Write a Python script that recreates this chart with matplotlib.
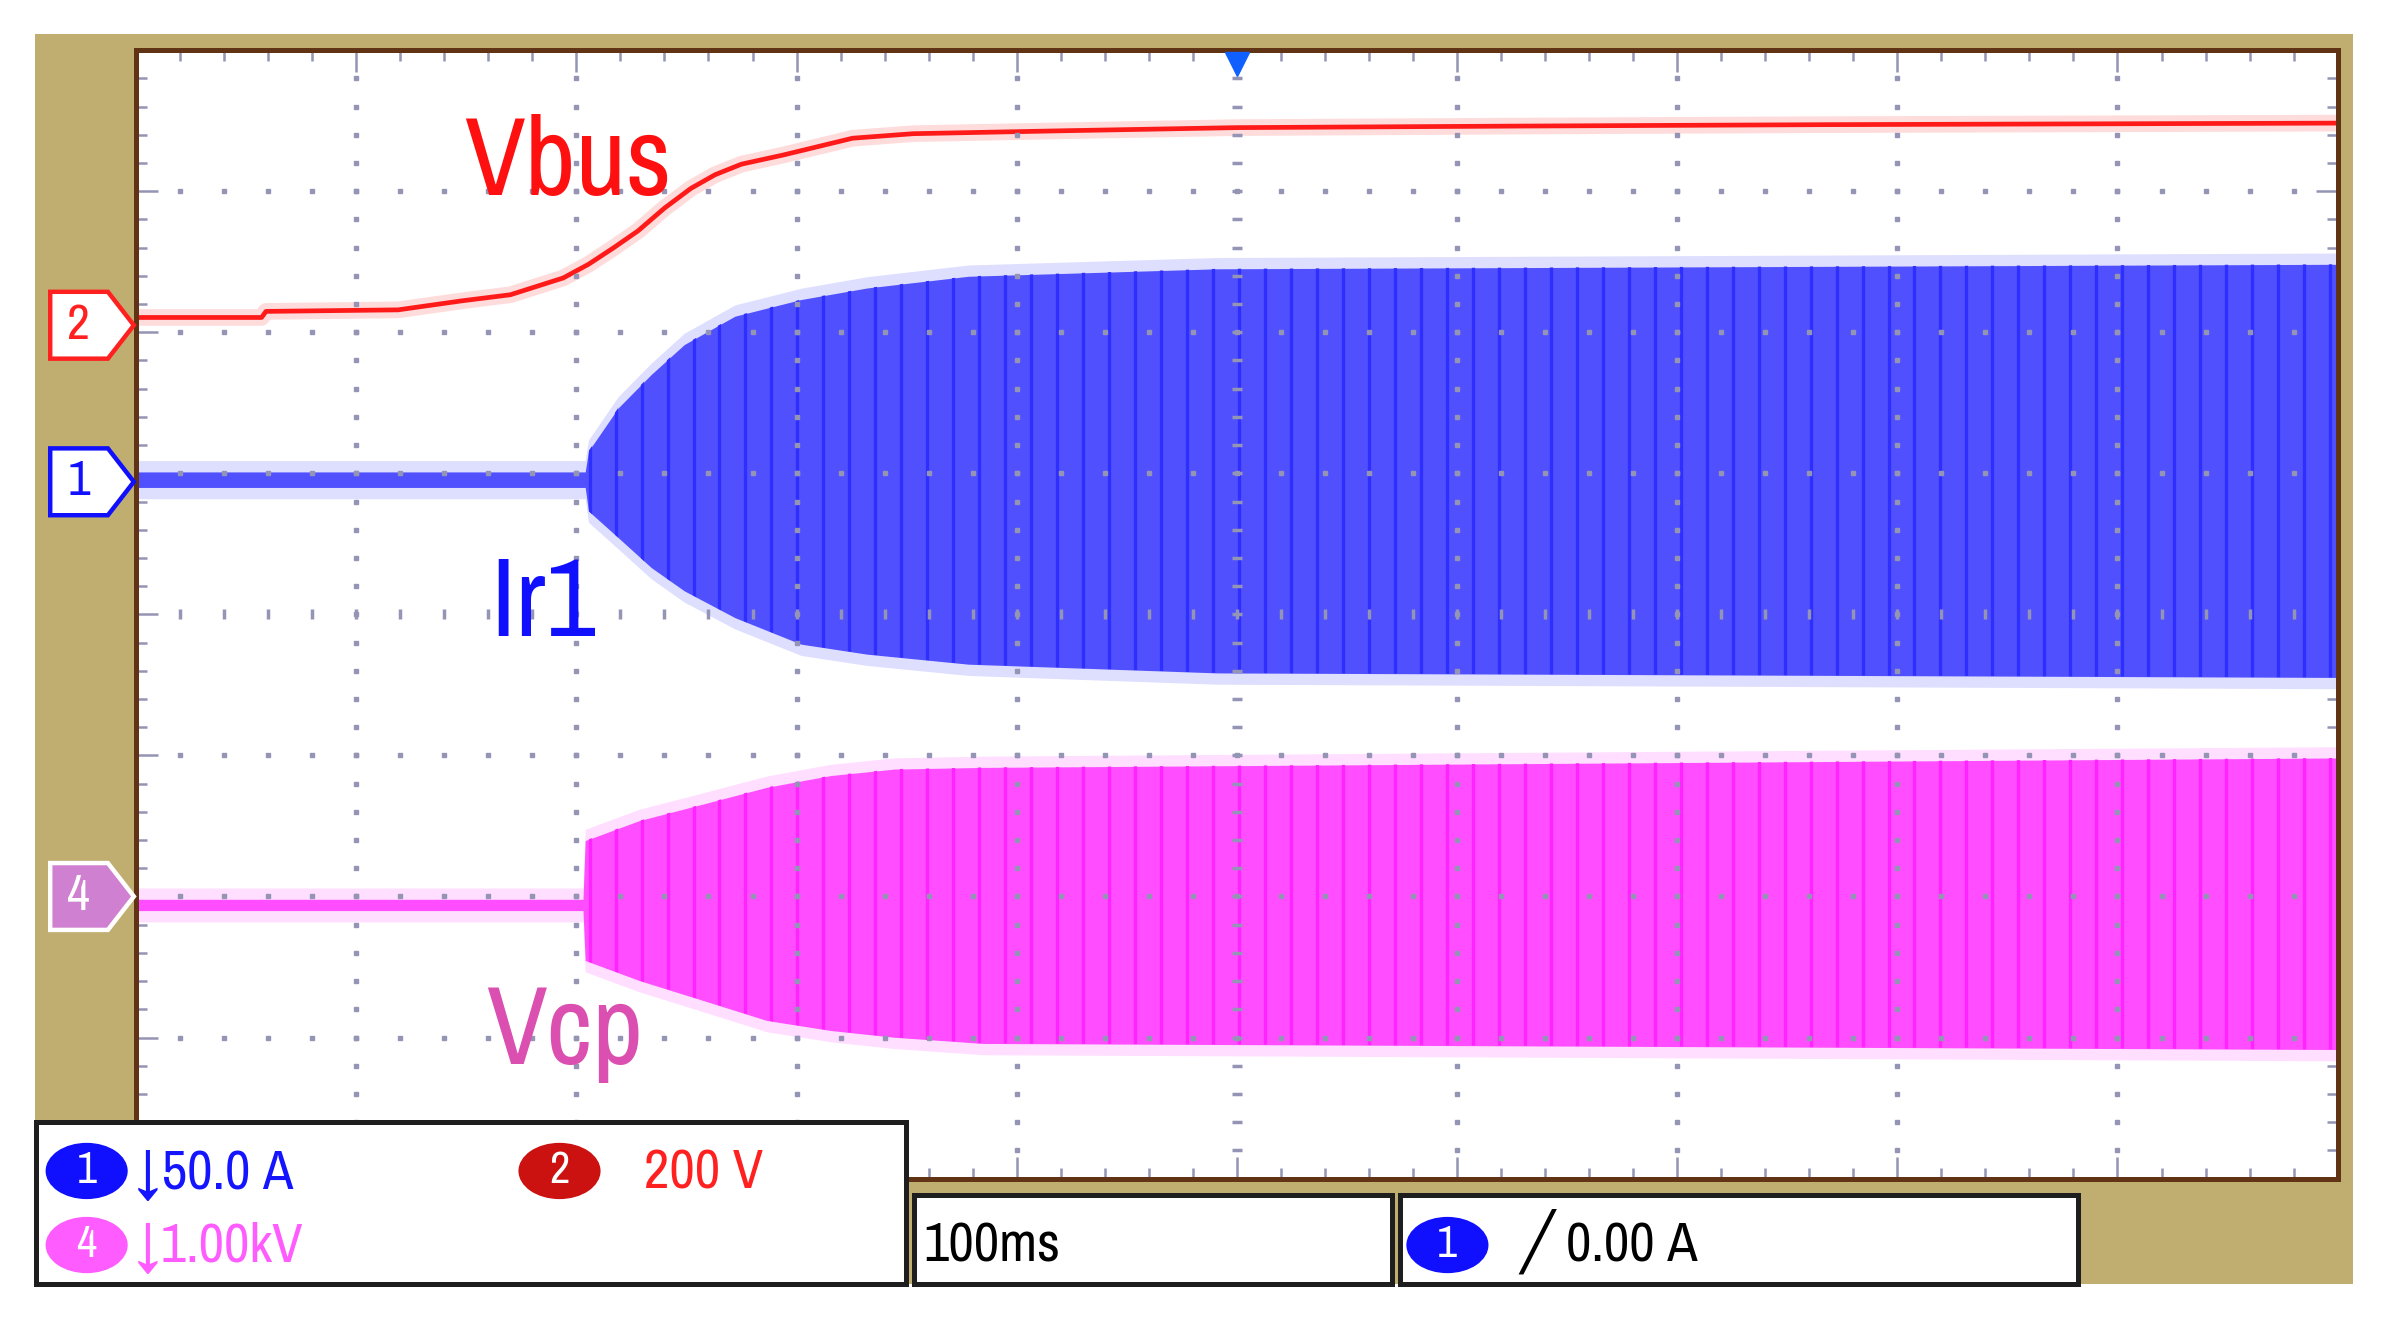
import matplotlib
matplotlib.use("Agg")
import matplotlib.pyplot as plt
import numpy as np
from matplotlib import font_manager as fm
from matplotlib.patches import Rectangle, Ellipse, Polygon
from matplotlib.transforms import blended_transform_factory
from matplotlib.ticker import MultipleLocator

# look for a narrow face, the scope font is very condensed
shrink = 1.0
narrow = [f for f in fm.fontManager.ttflist if 'Narrow' in f.fname]
cond = [f for f in fm.fontManager.ttflist if f.name == 'DejaVu Sans' and 'Condensed' in f.fname]
if narrow:
    plt.rcParams['font.family'] = [narrow[0].name, 'DejaVu Sans']
elif cond:
    plt.rcParams['font.family'] = ['DejaVu Sans']
    plt.rcParams['font.stretch'] = 'condensed'
    shrink = 0.92
else:
    plt.rcParams['font.family'] = ['DejaVu Sans']
    shrink = 0.8

# time in ms (100 ms/div, trigger at centre), vertical position in divisions
# ch2 - Vbus
vbus_t = [-500, -443, -441, -381, -352, -330, -306, -294.5, -283, -272, -260,
          -248, -237, -225, -206, -174.5, -147, -78, 0, 129, 267, 500]
vbus_v = [2.105, 2.105, 2.148, 2.159, 2.223, 2.266, 2.385, 2.482, 2.600, 2.719, 2.880,
          3.020, 3.117, 3.192, 3.257, 3.376, 3.408, 3.429, 3.451, 3.462, 3.472, 3.483]

# ch1 - Ir1 envelope (upper / lower)
ir1_t = [-500, -296, -294.5, -281, -266, -251, -228, -198, -168, -122, -9, 500]
ir1_hi = [1.01, 1.01, 1.157, 1.464, 1.701, 1.913, 2.114, 2.232, 2.314, 2.397, 2.45, 2.482]
ir1_lo = [0.90, 0.90, 0.733, 0.544, 0.332, 0.167, -0.023, -0.211, -0.282, -0.353, -0.415, -0.447]

# ch4 - Vcp envelope (upper / lower)
vcp_t = [-500, -297, -296, -271.4, -242.5, -213.5, -184.6, -155.7, -115.2, 500]
vcp_hi = [-2.02, -2.02, -1.604, -1.462, -1.345, -1.226, -1.143, -1.097, -1.085, -1.018]
vcp_lo = [-2.10, -2.10, -2.454, -2.596, -2.737, -2.879, -2.950, -2.998, -3.042, -3.085]

# channel ground markers
ch_names = ['2', '1', '4']
ch_levels = [2.05, 0.94, -2.0]
ch_edge = ['#FF2020', '#1010FF', 'white']
ch_face = ['white', 'white', '#D080D0']
ch_txt = ['#FF2020', '#1010FF', 'white']

# trace labels
lab_text = ['Vbus', 'Ir1', 'Vcp']
lab_t = [-351, -339, -341]
lab_v = [2.976, -0.151, -3.191]
lab_col = ['#FF1010', '#1010FF', '#DA4FB0']

# readouts
scale_text = ['\u219350.0 A', '200 V', '\u21931.00kV']
timebase = '100ms'
trig_text = '\u2571 0.00 A'

tan = '#C0AE70'
grid_c = '#9494B4'

fig = plt.figure(figsize=(23.84, 13.2), dpi=100)
fig.add_artist(Rectangle((0.01467, 0.02765), 0.97225, 0.94654, transform=fig.transFigure,
                         facecolor=tan, edgecolor='none', zorder=-10))

ax = fig.add_axes([0.05708, 0.10714, 0.92347, 0.85484])
ax.set_facecolor('white')
ax.set_xlim(-500, 500)
ax.set_ylim(-4, 4)
for s in ax.spines.values():
    s.set_color('#5F3313')
    s.set_linewidth(3.6)
    s.set_zorder(12)
ax.xaxis.set_major_locator(MultipleLocator(100))
ax.xaxis.set_minor_locator(MultipleLocator(20))
ax.yaxis.set_major_locator(MultipleLocator(1))
ax.yaxis.set_minor_locator(MultipleLocator(0.2))
ax.tick_params(which='both', direction='in', top=True, right=True, bottom=True, left=True,
               labelbottom=False, labelleft=False, color=grid_c, width=1.8)
ax.tick_params(which='major', length=16)
ax.tick_params(which='minor', length=8)

# graticule dots
yy = np.arange(-3.8, 3.81, 0.2)
xx = np.arange(-480, 481, 20)
for gx in [-400, -300, -200, -100, 100, 200, 300, 400]:
    ax.plot(np.full_like(yy, gx), yy, ls='none', marker='s', ms=2.8, color=grid_c, zorder=8)
for gy in [-3, -2, -1, 1, 2, 3]:
    ax.plot(xx, np.full_like(xx, gy, dtype=float), ls='none', marker='s', ms=2.8, color=grid_c, zorder=8)
# centre axes with ticks
ax.plot(np.zeros_like(yy), yy, ls='none', marker='_', ms=7, mew=2.5, color=grid_c, zorder=8)
ax.plot(xx, np.zeros_like(xx, dtype=float), ls='none', marker='|', ms=7, mew=2.5, color=grid_c, zorder=8)

# Vbus
ax.plot(vbus_t, vbus_v, color='#FFDCDC', lw=12, solid_capstyle='butt', zorder=2)
ax.plot(vbus_t, vbus_v, color='#FF1A1A', lw=3.4, zorder=3)


def envelope(t, hi, lo, halo, fill, stripe, ylo, yhi):
    ax.fill_between(t, np.add(hi, 0.08), np.subtract(lo, 0.08), color=halo, lw=0, zorder=2)
    body = ax.fill_between(t, hi, lo, color=fill, lw=0, zorder=3)
    st = ax.vlines(np.arange(-294, 500, 11.8), ylo, yhi, colors=stripe, lw=2.4, zorder=4)
    st.set_clip_path(body.get_paths()[0], ax.transData)


envelope(ir1_t, ir1_hi, ir1_lo, '#DEDEFF', '#5050FF', '#2E2EFF', -1, 3)
envelope(vcp_t, vcp_hi, vcp_lo, '#FFDEFF', '#FF4DFF', '#FF24FF', -3.5, -0.5)

for txt, x, y, c in zip(lab_text, lab_t, lab_v, lab_col):
    ax.text(x, y, txt, color=c, fontsize=80 * shrink, ha='left', va='baseline', zorder=9)

# trigger position marker
ax.plot([0], [3.9], marker='v', ms=17, color='#1060FF', clip_on=False, zorder=13)

# channel markers on the left
trans = blended_transform_factory(ax.transAxes, ax.transData)
for name, lv, ec, fc, tc in zip(ch_names, ch_levels, ch_edge, ch_face, ch_txt):
    h = 0.237
    pts = [(-0.039, lv + h), (-0.0128, lv + h), (-0.001, lv), (-0.0128, lv - h), (-0.039, lv - h)]
    ax.add_patch(Polygon(pts, closed=True, transform=trans, facecolor=fc, edgecolor=ec,
                         lw=3.2, clip_on=False, zorder=13))
    ax.text(-0.026, lv, name, transform=trans, color=tc, fontsize=36, ha='center', va='center',
            clip_on=False, zorder=14)

# readout boxes
for x0, y0, w, h in [(0.01499, 0.02765, 0.36486, 0.12212),
                     (0.38329, 0.02765, 0.20070, 0.06682),
                     (0.58712, 0.02765, 0.28457, 0.06682)]:
    fig.add_artist(Rectangle((x0, y0), w, h, transform=fig.transFigure, facecolor='white',
                             edgecolor='#1E1E1E', lw=3.6, zorder=20))

for cx, cy, col, num in [(0.03635, 0.11290, '#1010FF', '1'), (0.23469, 0.11290, '#CC1111', '2'),
                         (0.03635, 0.05680, '#FF5CFF', '4'), (0.60714, 0.05680, '#1010FF', '1')]:
    fig.add_artist(Ellipse((cx, cy), 0.03444, 0.04263, transform=fig.transFigure,
                           facecolor=col, edgecolor='none', zorder=21))
    fig.text(cx, cy, num, color='white', fontsize=32, ha='center', va='center', zorder=22)

fs = 40 * shrink
fig.text(0.05612, 0.09931, scale_text[0], color='#1414FF', fontsize=fs, va='baseline', zorder=22)
fig.text(0.27022, 0.09931, scale_text[1], color='#FF2020', fontsize=fs, va='baseline', zorder=22)
fig.text(0.05612, 0.04401, scale_text[2], color='#FF5CFF', fontsize=fs, va='baseline', zorder=22)
fig.text(0.38744, 0.04401, timebase, color='black', fontsize=fs, va='baseline', zorder=22)
fig.text(0.63763, 0.04401, trig_text, color='black', fontsize=fs, va='baseline', zorder=22)

fig.savefig('out.png', dpi=100, facecolor='white')
